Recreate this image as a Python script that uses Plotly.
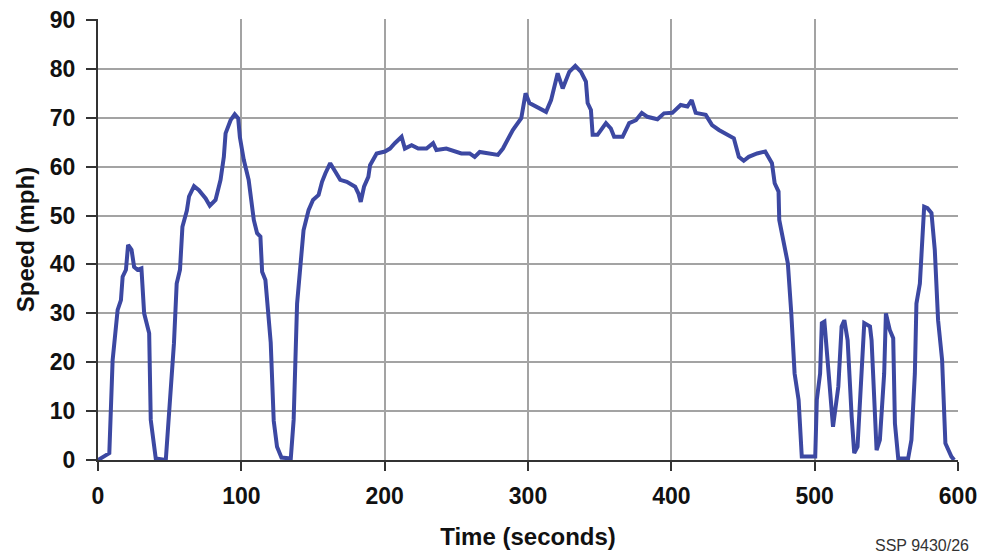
import plotly.graph_objects as go

time_s = [0, 7.9, 10.2, 13.7, 16, 17.2, 19.5, 21, 23.4, 25.2, 27.5, 30.3, 32.2, 35.7, 36.8, 40.3,
          47.3, 49.6, 53, 54.9, 57.2, 58.9, 60.5, 62, 63.5, 67, 70.4, 72.7, 75.1, 78, 82, 85.5,
          87.8, 89, 92.5, 95.4, 97.8, 99, 101.7, 105.1, 106.4, 108.7, 111, 113.3, 114.5, 116.8,
          120.5, 122.6, 124.9, 128, 134.5, 136.5, 138.9, 141.2, 143.4, 146.9, 150, 153.9, 156.3,
          158.6, 162, 165.5, 169, 173.6, 179.4, 181.7, 183.3, 185.6, 188.6, 189.8, 194.4, 200.2,
          203.7, 207.1, 211.8, 214.1, 218.8, 223.4, 229.2, 233.8, 236.1, 243, 253.5, 259.3, 262.8,
          266.3, 273.2, 279, 282.5, 287.2, 289.4, 295.3, 298.3, 301, 305.7, 312.6, 316.1, 320.7,
          324.2, 328.8, 333, 337, 340.4, 341.6, 343.9, 345.1, 348.5, 354.4, 357.8, 360.1, 366,
          370.6, 375.3, 379.4, 383.3, 390.3, 394.9, 400.7, 406.5, 411.2, 414.2, 417, 424, 428.4,
          433.2, 440.1, 443.6, 447.1, 450.5, 454, 459.8, 465.5, 470.2, 472.1, 474.8, 475.3, 478.3,
          481.3, 483.7, 486, 488.8, 491, 500.4, 501.5, 503.8, 505, 506.8, 510, 512.8, 516.5, 518.8,
          520.7, 523, 525.8, 527.6, 529.9, 532.7, 534.6, 538.6, 539.7, 543.2, 545.5, 548.5, 549.7,
          552.4, 554.8, 556, 558.3, 565.2, 567.5, 569.9, 571, 573.4, 574.5, 576.4, 578.7, 581.5,
          583.8, 586.1, 588.9, 591.2, 595.4, 597.3]
speed_mph = [0, 1.4, 20.4, 30.7, 32.7, 37.5, 38.9, 44, 43, 39.5, 38.9, 39.2, 30, 25.9, 8.2, 0.3,
             0, 9.5, 23.9, 36.1, 38.9, 47.7, 49.5, 51, 53.9, 56, 55.2, 54.5, 53.5, 52, 53.2, 57.3,
             62, 66.8, 69.5, 70.7, 69.9, 66, 61.4, 57.3, 54.5, 49.1, 46.4, 45.7, 38.5, 36.8,
             24, 8, 2.7, 0.5, 0.3, 8.2, 32, 38.9, 47, 51.1, 53.2, 54.2, 56.9,
             58.6, 60.7, 59, 57.3, 56.9, 55.9, 54.5, 52.8, 55.9, 57.9, 60.3, 62.7, 63.1,
             63.7, 64.8, 66.1, 63.7, 64.4, 63.7, 63.7, 64.8, 63.4, 63.7, 62.7, 62.7, 62,
             63, 62.7, 62.4, 63.7, 66.1, 67.5, 69.9, 75, 73, 72.3, 71.2, 73.6, 79.1,
             76, 79.4, 80.6, 79.4, 77.4, 73, 71.6, 66.5, 66.5, 68.9, 67.8, 66.1, 66.1,
             68.9, 69.5, 71, 70.2, 69.7, 70.9, 71, 72.6, 72.3, 73.6, 71, 70.6, 68.5,
             67.5, 66.5, 65.8, 62, 61.2, 62, 62.7, 63.1, 60.7, 56.6, 54.9, 49.1, 45,
             40.2, 30, 17.7, 12.3, 0.7, 0.7, 12.3, 17.7, 28, 28.3, 17.7, 6.8, 15, 27.3,
             28.6, 24.5, 8.9, 1.4, 2.7, 17.7, 28, 27.3, 24.5, 2, 4.1, 17.7, 30,
             26.6, 24.9, 7.5, 0.3, 0.3, 4.1, 17.7, 32, 36.1, 43.6, 51.8, 51.5, 50.5,
             43, 28.6, 20.5, 3.4, 0.7, 0]

x_ticks = [0, 100, 200, 300, 400, 500, 600]
y_ticks = [0, 10, 20, 30, 40, 50, 60, 70, 80, 90]

FONT = "Liberation Sans, Arial, sans-serif"

fig = go.Figure()
fig.add_trace(go.Scatter(
    x=time_s, y=speed_mph, mode="lines",
    line=dict(color="#3c48a2", width=4),
    showlegend=False, hoverinfo="skip",
))

# page body has an 8px margin, so the figure is sized and offset to compensate
fig.update_layout(
    width=978, height=546,
    margin=dict(l=90, r=28, t=11, b=94, autoexpand=False),
    paper_bgcolor="white", plot_bgcolor="white",
    font=dict(family=FONT, color="#111111"),
)
fig.update_xaxes(
    range=[0, 600], tickvals=x_ticks, ticktext=[str(v) for v in x_ticks],
    showgrid=True, gridcolor="#a3a3a3", gridwidth=1.5,
    showline=True, linecolor="#333333", linewidth=2,
    ticks="outside", ticklen=9, tickwidth=1.5, tickcolor="#333333",
    tickfont=dict(family=FONT, size=23, color="#111111", weight="bold"),
    ticklabelstandoff=5, ticklabeloverflow="allow",
    zeroline=False, automargin=False,
    title=dict(text="<b>Time (seconds)</b>", font=dict(family=FONT, size=24, color="#111111"), standoff=21),
)
fig.update_yaxes(
    range=[0, 90.2], tickvals=y_ticks, ticktext=[str(v) for v in y_ticks],
    showgrid=True, gridcolor="#a3a3a3", gridwidth=1.5,
    showline=True, linecolor="#333333", linewidth=2,
    ticks="outside", ticklen=10, tickwidth=1.5, tickcolor="#333333",
    tickfont=dict(family=FONT, size=23, color="#111111", weight="bold"),
    ticklabelstandoff=6, ticklabeloverflow="allow",
    zeroline=False, automargin=False,
    title=dict(text="<b>Speed (mph)</b>", font=dict(family=FONT, size=24, color="#111111"), standoff=8),
)
fig.add_annotation(
    text="SSP 9430/26", xref="paper", yref="paper", x=1.0, y=-0.178,
    xanchor="right", yanchor="top", showarrow=False, xshift=13, yshift=3,
    font=dict(family=FONT, size=16, color="#333333"),
)

fig.write_html("out.html")
